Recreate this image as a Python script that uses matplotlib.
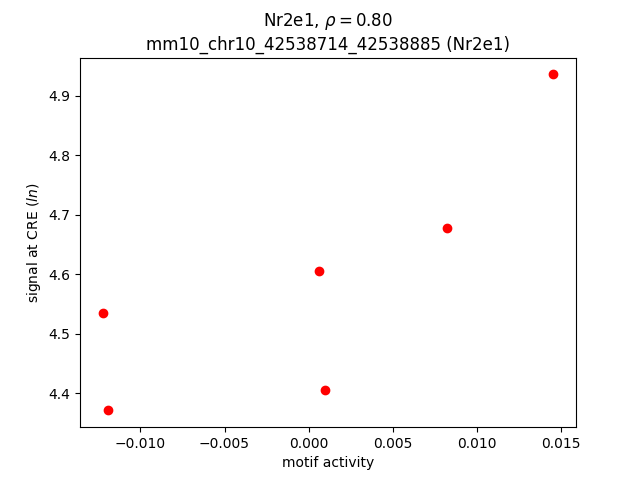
import matplotlib
matplotlib.use("Agg")
import matplotlib.pyplot as plt

motif_activity = [0.01455, 0.0082, 0.0006, 0.0010, -0.01225, -0.0119]
signal = [4.936, 4.677, 4.606, 4.405, 4.534, 4.371]

fig, ax = plt.subplots(figsize=(6.4, 4.8), dpi=100)
ax.scatter(motif_activity, signal, color="red")
ax.set_xlabel("motif activity")
ax.set_ylabel("signal at CRE ($ln$)")
ax.set_title("Nr2e1, $\\rho = 0.80$\nmm10_chr10_42538714_42538885 (Nr2e1)")
fig.savefig("out.png")
